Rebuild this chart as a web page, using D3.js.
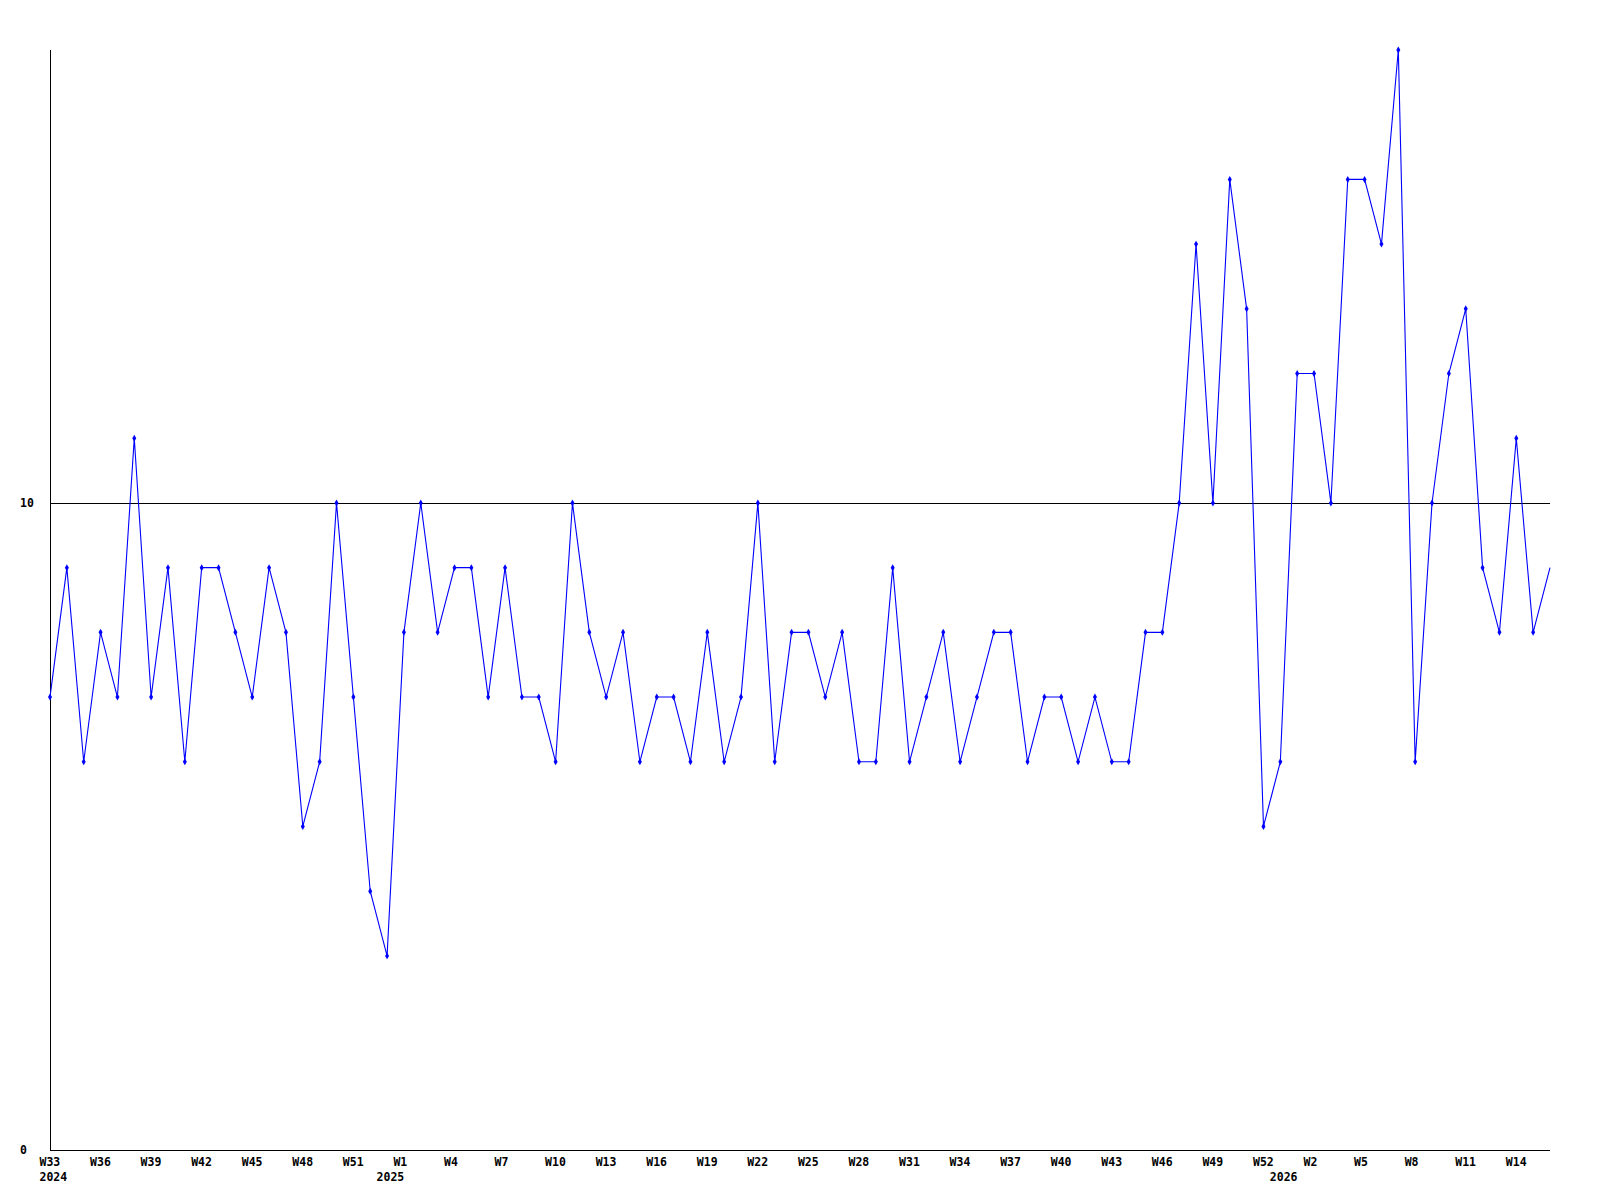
<!DOCTYPE html>
<html>
<head>
<meta charset="utf-8">
<script src="https://cdn.jsdelivr.net/npm/d3@7"></script>
<style>
  html, body { margin: 0; padding: 0; background: #ffffff; }
  svg { display: block; }
  text { font-family: "DejaVu Sans Mono", "Liberation Mono", monospace; font-weight: bold; font-size: 11.5px; fill: #000; }
</style>
</head>
<body>
<svg id="chart" width="1600" height="1200"></svg>
<script>
// Week categories (weekly buckets, %W-style numbering with week 0)
const weeks = [
  "W33","W34","W35","W36","W37","W38","W39","W40","W41","W42",
  "W43","W44","W45","W46","W47","W48","W49","W50","W51","W52",
  "W0","W1","W2","W3","W4","W5","W6","W7","W8","W9",
  "W10","W11","W12","W13","W14","W15","W16","W17","W18","W19",
  "W20","W21","W22","W23","W24","W25","W26","W27","W28","W29",
  "W30","W31","W32","W33","W34","W35","W36","W37","W38","W39",
  "W40","W41","W42","W43","W44","W45","W46","W47","W48","W49",
  "W50","W51","W52",
  "W0","W1","W2","W3","W4","W5","W6","W7","W8","W9",
  "W10","W11","W12","W13","W14","W15","W16"
];
// Year markers: [category index, label]
const yearIndex = [0, 20, 73];
const yearLabels = ["2024", "2025", "2026"];
// Weekly values
const values = [
  7, 9, 6, 8, 7, 11, 7, 9, 6, 9,
  9, 8, 7, 9, 8, 5, 6, 10, 7, 4,
  3, 8, 10, 8, 9, 9, 7, 9, 7, 7,
  6, 10, 8, 7, 8, 6, 7, 7, 6, 8,
  6, 7, 10, 6, 8, 8, 7, 8, 6, 6,
  9, 6, 7, 8, 6, 7, 8, 8, 6, 7,
  7, 6, 7, 6, 6, 8, 8, 10, 14, 10,
  15, 13, 5, 6, 12, 12, 10, 15, 15, 14,
  17, 6, 10, 12, 13, 9, 8, 11, 8, 9
];
// Y tick labels and reference line
const yTicks = [0, 10];
const refLine = 10;
const labelEvery = 3;

(function () {
const svg = d3.select("#chart");
const mLeft = 50, mRight = 1550, mTop = 50, mBottom = 1150;

const x = d3.scaleLinear().domain([0, values.length - 1]).range([mLeft, mRight]);
const y = d3.scaleLinear().domain([0, 17]).range([mBottom, 50]);

// axes lines
svg.append("line")
  .attr("x1", mLeft + 0.5).attr("x2", mLeft + 0.5)
  .attr("y1", mTop).attr("y2", mBottom + 0.5)
  .attr("stroke", "#000").attr("stroke-width", 1).attr("shape-rendering", "crispEdges");
svg.append("line")
  .attr("x1", mLeft).attr("x2", mRight)
  .attr("y1", mBottom + 0.5).attr("y2", mBottom + 0.5)
  .attr("stroke", "#000").attr("stroke-width", 1).attr("shape-rendering", "crispEdges");
// reference line at 10
svg.append("line")
  .attr("x1", mLeft).attr("x2", mRight)
  .attr("y1", Math.round(y(refLine)) + 0.5).attr("y2", Math.round(y(refLine)) + 0.5)
  .attr("stroke", "#000").attr("stroke-width", 1).attr("shape-rendering", "crispEdges");

// y labels
svg.selectAll("text.ylab").data(yTicks).enter().append("text")
  .attr("class", "ylab")
  .attr("x", 20)
  .attr("y", d => y(d))
  .attr("dy", "0.35em")
  .attr("text-anchor", "start")
  .text(d => d);

// x week labels
const xIdx = d3.range(0, weeks.length, labelEvery);
svg.selectAll("text.xlab").data(xIdx).enter().append("text")
  .attr("class", "xlab")
  .attr("x", i => x(i) - 10.5)
  .attr("y", 1162)
  .attr("dy", "0.35em")
  .attr("text-anchor", "start")
  .text(i => weeks[i]);

// year labels
svg.selectAll("text.yr").data(yearIndex).enter().append("text")
  .attr("class", "yr")
  .attr("x", i => x(i) - 10.5)
  .attr("y", 1177)
  .attr("dy", "0.35em")
  .attr("text-anchor", "start")
  .text((i, k) => yearLabels[k]);

// line
const line = d3.line().x((d, i) => x(i)).y(d => y(d));
svg.append("path")
  .datum(values)
  .attr("d", line)
  .attr("fill", "none")
  .attr("stroke", "#0000ff")
  .attr("stroke-width", 1.1);

// markers (last, partial week has none)
const sym = d3.symbol().type(d3.symbolDiamond).size(14);
svg.selectAll("path.mk").data(values.slice(0, values.length - 1)).enter().append("path")
  .attr("class", "mk")
  .attr("transform", (d, i) => `translate(${x(i)},${y(d)})`)
  .attr("d", sym)
  .attr("fill", "#0000ff");
})();
</script>
</body>
</html>
